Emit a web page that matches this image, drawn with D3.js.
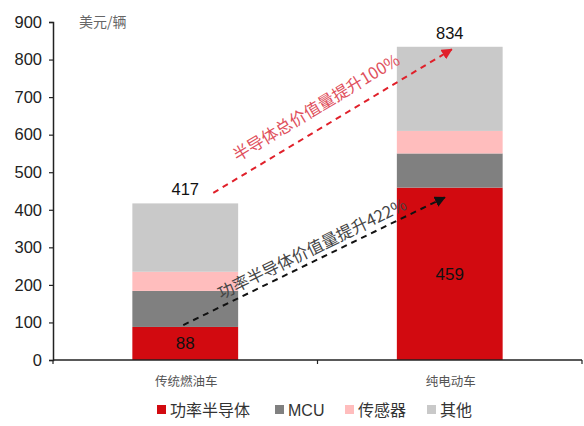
<!DOCTYPE html>
<html>
<head>
<meta charset="utf-8">
<script src="https://cdn.jsdelivr.net/npm/d3@7/dist/d3.min.js"></script>
<style>
  html, body { margin: 0; padding: 0; background: #fff; }
  svg { display: block; }
</style>
</head>
<body>
<svg id="chart" width="584" height="426"></svg>
<script>
// Semiconductor content per vehicle (USD / vehicle)
const categories = ["传统燃油车", "纯电动车"];
const seriesNames = ["功率半导体", "MCU", "传感器", "其他"];
const powerSemi = [88, 459];
const mcu = [96, 91];
const sensors = [51, 60];
const others = [182, 224];
const totals = [417, 834];
const yTicks = [0, 100, 200, 300, 400, 500, 600, 700, 800, 900];
const colors = ["#D20A10", "#808080", "#FFBDBD", "#C9C9C9"];
const unitLabel = "美元/辆";
const noteTotal = "半导体总价值量提升100%";
const notePower = "功率半导体价值量提升422%";

const svg = d3.select("#chart");
const latin = "'Liberation Sans', Arial, sans-serif";
const cjk = "'Noto Sans CJK SC', sans-serif";

const x = d3.scaleBand().domain(categories).range([53, 582])
  .paddingInner(0.6).paddingOuter(0.3);
const y = d3.scaleLinear().domain([0, 900]).range([360, 22]);

// stacked layout
const rows = categories.map((c, i) => ({
  cat: c,
  [seriesNames[0]]: powerSemi[i],
  [seriesNames[1]]: mcu[i],
  [seriesNames[2]]: sensors[i],
  [seriesNames[3]]: others[i]
}));
const stacked = d3.stack().keys(seriesNames)(rows);

svg.append("g").selectAll("g").data(stacked).join("g")
  .attr("fill", (d, i) => colors[i])
  .selectAll("rect").data(d => d).join("rect")
  .attr("x", d => x(d.data.cat))
  .attr("width", x.bandwidth())
  .attr("y", d => y(d[1]))
  .attr("height", d => y(d[0]) - y(d[1]));

// y axis
const yAxis = svg.append("g").attr("transform", "translate(53,0)")
  .call(d3.axisLeft(y).tickValues(yTicks).tickSize(4).tickPadding(7));
yAxis.select(".domain").attr("stroke", "#222").attr("stroke-width", 1.5);
yAxis.selectAll(".tick line").attr("stroke", "#222").attr("stroke-width", 1.2);
yAxis.selectAll(".tick text").attr("font-family", latin).attr("font-size", 16.5)
  .attr("fill", "#222");

// x axis with ticks on category boundaries
const x0 = x.range()[0];
svg.append("line").attr("x1", x0).attr("x2", x.range()[1])
  .attr("y1", y(0)).attr("y2", y(0)).attr("stroke", "#222").attr("stroke-width", 1.5);
svg.append("g").selectAll("line").data(d3.range(categories.length + 1)).join("line")
  .attr("x1", i => x0 + i * x.step()).attr("x2", i => x0 + i * x.step())
  .attr("y1", y(0)).attr("y2", y(0) + 4)
  .attr("stroke", "#222").attr("stroke-width", 1.2);

svg.append("g").selectAll("text").data(categories).join("text")
  .attr("x", d => x(d) + x.bandwidth() / 2 + 1)
  .attr("y", 386)
  .attr("text-anchor", "middle")
  .attr("font-family", cjk).attr("font-size", 12.5).attr("fill", "#555")
  .text(d => d);

// unit label
svg.append("text").attr("x", 79).attr("y", 27)
  .attr("font-family", cjk).attr("font-size", 14).attr("fill", "#666")
  .text(unitLabel);

// value labels
svg.append("g").selectAll("text").data(totals).join("text")
  .attr("x", (d, i) => x(categories[i]) + x.bandwidth() / 2)
  .attr("y", d => y(d) - 8)
  .attr("text-anchor", "middle")
  .attr("font-family", latin).attr("font-size", 16.5).attr("fill", "#111")
  .text(d => d);
svg.append("g").selectAll("text").data(powerSemi).join("text")
  .attr("x", (d, i) => x(categories[i]) + x.bandwidth() / 2)
  .attr("y", d => y(d / 2) + 6)
  .attr("text-anchor", "middle")
  .attr("font-family", latin).attr("font-size", 17).attr("fill", "#111")
  .text(d => d);

// arrowheads
const defs = svg.append("defs");
[["arrRed", "#E0202A"], ["arrBlack", "#111"]].forEach(([id, c]) => {
  defs.append("marker").attr("id", id)
    .attr("viewBox", "0 0 10 10").attr("refX", 9).attr("refY", 5)
    .attr("markerWidth", 11).attr("markerHeight", 11)
    .attr("markerUnits", "userSpaceOnUse")
    .attr("orient", "auto")
    .append("path").attr("d", "M0,0 L10,5 L0,10 Z").attr("fill", c);
});

const cx = i => x(categories[i]) + x.bandwidth() / 2;

// growth arrows: total semiconductor and power semiconductor
const arrows = [
  { x1: cx(0) + 28, v1: 445, x2: cx(1) + 2, v2: 827, color: "#E0202A", marker: "arrRed",
    text: noteTotal, textColor: "#E0505C", off: -10, shift: -8 },
  { x1: cx(0) - 2, v1: 93, x2: cx(1) - 5, v2: 433, color: "#111", marker: "arrBlack",
    text: notePower, textColor: "#444", off: -8, shift: 4 }
];

arrows.forEach(a => {
  const X1 = a.x1, Y1 = y(a.v1), X2 = a.x2, Y2 = y(a.v2);
  svg.append("line")
    .attr("x1", X1).attr("y1", Y1).attr("x2", X2).attr("y2", Y2)
    .attr("stroke", a.color).attr("stroke-width", 2)
    .attr("stroke-dasharray", "6,5")
    .attr("marker-end", `url(#${a.marker})`);
  const ang = Math.atan2(Y2 - Y1, X2 - X1) * 180 / Math.PI;
  const mx = (X1 + X2) / 2 + a.shift, my = (Y1 + Y2) / 2;
  svg.append("text")
    .attr("transform", `translate(${mx},${my}) rotate(${ang}) translate(0,${a.off})`)
    .attr("text-anchor", "middle")
    .attr("font-family", cjk).attr("font-size", 16.5).attr("fill", a.textColor)
    .text(a.text);
});

// legend
const legendX = [157, 275, 345, 427];
const lg = svg.append("g").selectAll("g").data(seriesNames).join("g")
  .attr("transform", (d, i) => `translate(${legendX[i]},410)`);
lg.append("rect").attr("x", 0).attr("y", -5).attr("width", 9).attr("height", 9)
  .attr("fill", (d, i) => colors[i]);
lg.append("text").attr("x", 13).attr("y", 6)
  .attr("font-family", (d, i) => i === 1 ? latin : cjk)
  .attr("font-size", 16).attr("fill", "#333")
  .text(d => d);
</script>
</body>
</html>
